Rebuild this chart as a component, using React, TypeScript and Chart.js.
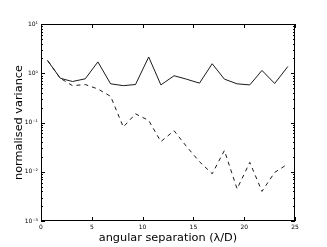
import React, { useEffect, useRef } from "react";
import { Chart, registerables } from "chart.js";

Chart.register(...registerables);

const separations = [0.65, 1.9, 3.1, 4.35, 5.6, 6.85, 8.1, 9.3, 10.6, 11.8, 13.1, 14.3, 15.6, 16.85, 18.05, 19.3, 20.55, 21.75, 23.0, 24.3];
const solidVariance = [1.81, 0.79, 0.68, 0.77, 1.7, 0.61, 0.56, 0.59, 2.14, 0.58, 0.89, 0.76, 0.63, 1.56, 0.76, 0.61, 0.58, 1.14, 0.62, 1.37];
const dashedVariance = [1.81, 0.79, 0.56, 0.59, 0.48, 0.34, 0.081, 0.15, 0.11, 0.041, 0.068, 0.033, 0.016, 0.0091, 0.027, 0.0045, 0.0155, 0.004, 0.0097, 0.0144];
const xTicks = [0, 5, 10, 15, 20, 25];
const yDecadeLabels: Record<string, string> = {
  "-3": "10\u207B\u00B3",
  "-2": "10\u207B\u00B2",
  "-1": "10\u207B\u00B9",
  "0": "10\u2070",
  "1": "10\u00B9",
};

const frameTicks = {
  id: "frameTicks",
  afterDraw(chart: any) {
    const { ctx, chartArea } = chart;
    const { left, right, top, bottom } = chartArea;
    const xs = chart.scales.x;
    const ys = chart.scales.y;
    ctx.save();
    ctx.strokeStyle = "#000";
    ctx.lineWidth = 1;
    ctx.beginPath();
    for (const v of xTicks) {
      const px = Math.round(xs.getPixelForValue(v)) + 0.5;
      ctx.moveTo(px, bottom);
      ctx.lineTo(px, bottom - 4);
      ctx.moveTo(px, top);
      ctx.lineTo(px, top + 4);
    }
    for (let e = -3; e <= 1; e++) {
      for (let k = 1; k <= 9; k++) {
        const v = k * Math.pow(10, e);
        if (v > 10.0001) continue;
        const py = Math.round(ys.getPixelForValue(v)) + 0.5;
        const len = k === 1 ? 4 : 2;
        ctx.moveTo(left, py);
        ctx.lineTo(left + len, py);
        ctx.moveTo(right, py);
        ctx.lineTo(right - len, py);
      }
    }
    ctx.stroke();
    ctx.strokeRect(left + 0.5, top + 0.5, right - left - 1, bottom - top - 1);
    ctx.restore();
  },
};

export default function App() {
  const ref = useRef<HTMLCanvasElement>(null);
  useEffect(() => {
    document.body.style.margin = "0";
    const canvas = ref.current!;
    const chart = new Chart(canvas, {
      type: "line",
      data: {
        datasets: [
          {
            data: separations.map((x, i) => ({ x, y: solidVariance[i] })),
            borderColor: "#1a1a1a",
            borderWidth: 1,
            pointRadius: 0,
            tension: 0,
            fill: false,
          },
          {
            data: separations.map((x, i) => ({ x, y: dashedVariance[i] })),
            borderColor: "#1a1a1a",
            borderWidth: 1,
            borderDash: [4, 4],
            pointRadius: 0,
            tension: 0,
            fill: false,
          },
        ],
      },
      options: {
        animation: false,
        responsive: false,
        devicePixelRatio: 1,
        layout: { padding: { left: 0, right: 32, top: 24, bottom: 0 } },
        plugins: { legend: { display: false }, tooltip: { enabled: false } },
        scales: {
          x: {
            type: "linear",
            min: 0,
            max: 25,
            grid: { display: false, drawTicks: false },
            border: { display: false },
            ticks: {
              stepSize: 5,
              padding: 3,
              color: "#000",
              font: { family: "DejaVu Sans", size: 6 },
              maxRotation: 0,
            },
            title: {
              display: true,
              text: "angular separation (\u03BB/D)",
              color: "#000",
              font: { family: "DejaVu Sans", size: 11.3 },
              padding: { top: 0, bottom: 2.5 },
            },
            afterFit(scale: any) {
              scale.height = 26;
            },
          },
          y: {
            type: "logarithmic",
            min: 0.001,
            max: 10,
            grid: { display: false, drawTicks: false },
            border: { display: false },
            ticks: {
              autoSkip: false,
              padding: 3,
              color: "#000",
              font: { family: "DejaVu Sans", size: 6 },
              callback(value: any) {
                const l = Math.log10(Number(value));
                const r = Math.round(l);
                if (Math.abs(l - r) < 1e-6) return yDecadeLabels[String(r)] ?? "";
                return "";
              },
            },
            title: {
              display: true,
              text: "normalised variance",
              color: "#000",
              font: { family: "DejaVu Sans", size: 11.3 },
              padding: { top: 12.4, bottom: 0 },
            },
            afterFit(scale: any) {
              scale.width = 41;
            },
          },
        },
      },
      plugins: [frameTicks],
    });
    return () => chart.destroy();
  }, []);
  return (
    <div style={{ width: 327, height: 247 }}>
      <canvas ref={ref} width={327} height={247} style={{ display: "block" }} />
    </div>
  );
}
